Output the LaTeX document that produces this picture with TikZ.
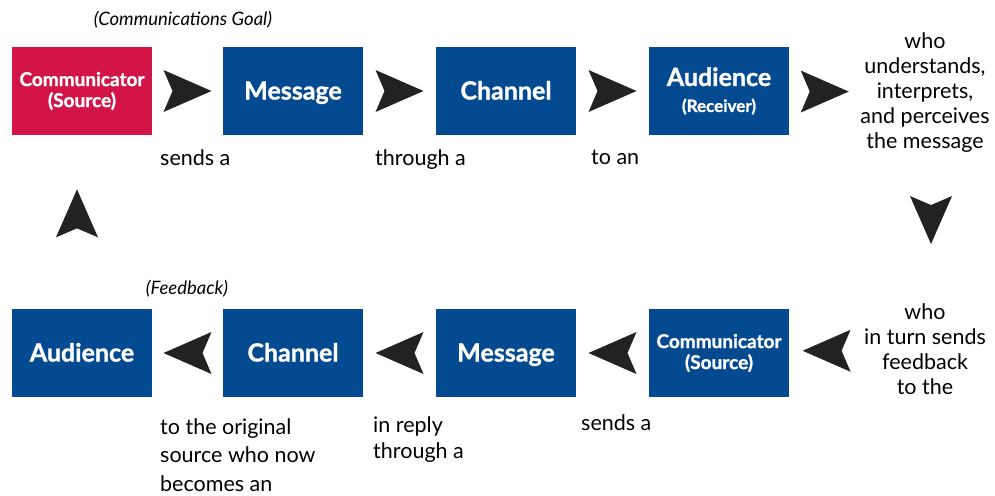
\documentclass[tikz,border=0pt]{standalone}
\usepackage{fontspec}
\setmainfont{Lato}[BoldFeatures={FakeBold=1.2}]
\definecolor{srcred}{HTML}{D21447}
\definecolor{boxblue}{HTML}{034A91}
\definecolor{chevgray}{HTML}{222222}

\begin{document}
\begin{tikzpicture}[x=1pt,y=-1pt,
  every node/.style={inner sep=0pt},
  box/.style={minimum width=140pt,minimum height=88pt,fill=boxblue,text=white,
    align=center,font=\bfseries\fontsize{25}{28}\selectfont},
  single/.style={text height=20pt,text depth=3pt},
  small/.style={font=\bfseries\fontsize{19}{21}\selectfont},
  note/.style={align=center,font=\fontsize{21.5}{25}\selectfont},
  aside/.style={font=\itshape\fontsize{18.5}{20}\selectfont},
  chev/.pic={\fill[chevgray] (24,0) -- (-24,-21) -- (-15,0) -- (-24,21) -- cycle;}]

  \useasboundingbox (0,0) rectangle (995,495);

  % sender to receiver
  \node[box,small,fill=srcred] (cs1) at (82,91) {Communicator\\(Source)};
  \node[box,single] (m1) at (293,91) {Message};
  \node[box,single] (ch1) at (506,91) {Channel};
  \node[box] (au1) at (719,91) {Audience\\[-2pt]{\fontsize{17}{21}\selectfont(Receiver)}};
  \node[note,anchor=north] (uw) at (925,32)
    {who\\understands,\\interprets,\\and perceives\\the message};

  % feedback back to the source
  \node[box,small] (cs2) at (719,353) {Communicator\\(Source)};
  \node[box,single] (m2) at (506,353) {Message};
  \node[box,single] (ch2) at (293,353) {Channel};
  \node[box,single] (au2) at (82,353) {Audience};
  \node[note,anchor=north] (lw) at (925,303)
    {who\\in turn sends\\feedback\\to the};

  % side notes
  \node[aside] (goal) at (183,20) {(Communications Goal)};
  \node[aside] (fb) at (187,289) {(Feedback)};
  \node[note,anchor=base west] (t1) at (160,165) {sends a};
  \node[note,anchor=base west] (t2) at (375,165) {through a};
  \node[note,anchor=base west] (t3) at (591,164) {to an};
  \node[note,anchor=base west] (t4) at (581,430) {sends a};
  \node[note,align=left,anchor=north west,font=\fontsize{21.5}{26}\selectfont] (t5)
    at (373,416) {in reply\\through a};
  \node[note,align=left,anchor=north west,font=\fontsize{21.5}{28.5}\selectfont] (t6)
    at (160,418) {to the original\\source who now\\becomes an};

  % chevrons
  \path (cs1) -- (m1) pic[midway]{chev};
  \path (m1) -- (ch1) pic[midway]{chev};
  \path (ch1) -- (au1) pic[midway]{chev};
  \path (au1) -- (uw) pic[midway]{chev};
  \path (uw) -- (lw) pic[pos=.45,xshift=6,rotate=-90]{chev};
  \path (lw) -- (cs2) pic[midway,rotate=180]{chev};
  \path (cs2) -- (m2) pic[midway,rotate=180]{chev};
  \path (m2) -- (ch2) pic[midway,rotate=180]{chev};
  \path (ch2) -- (au2) pic[midway,rotate=180]{chev};
  \path (au2) -- (cs1) pic[pos=.55,xshift=-5,rotate=90]{chev};
\end{tikzpicture}
\end{document}
